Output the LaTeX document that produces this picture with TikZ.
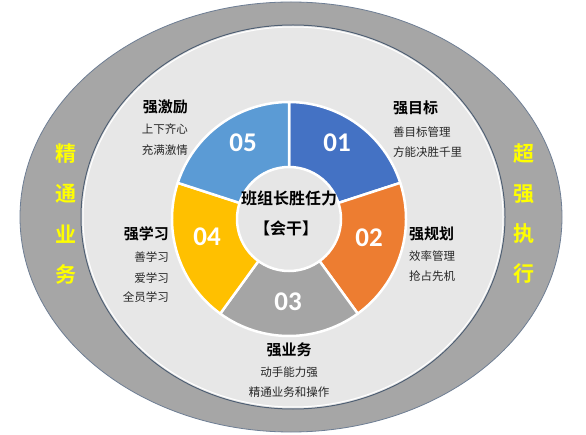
\documentclass[tikz,border=0pt]{standalone}
\usepackage{fontspec}
\setmainfont{Noto Sans CJK SC}[BoldFont={Noto Sans CJK SC Bold}]
\newfontfamily\numfont{Carlito}[BoldFont={Carlito Bold}]
\usetikzlibrary{calc}
\definecolor{ringgray}{HTML}{A6A6A6}
\definecolor{ringline}{HTML}{6E7E94}
\definecolor{innerfill}{HTML}{E7E7E7}
\definecolor{innerline}{HTML}{4F5F73}
\definecolor{cone}{HTML}{4472C4}
\definecolor{ctwo}{HTML}{ED7D31}
\definecolor{cthree}{HTML}{A5A5A5}
\definecolor{cfour}{HTML}{FFC000}
\definecolor{cfive}{HTML}{5B9BD5}
\definecolor{centerfill}{HTML}{E6E6E6}
\definecolor{ytext}{HTML}{FFFF00}
\tikzset{
  x=1pt,y=1pt,
  wedge/.style={draw=white,line width=2.5pt,line join=round},
  numtxt/.style={text=white,font=\numfont\bfseries\fontsize{27}{27}\selectfont,inner sep=0pt},
  headtxt/.style={text=black,font=\bfseries\fontsize{15}{15}\selectfont,inner sep=0pt},
  subtxt/.style={text=black!85,font=\fontsize{11.5}{11.5}\selectfont,inner sep=0pt},
  sidetxt/.style={text=ytext,font=\bfseries\fontsize{21}{21}\selectfont,inner sep=0pt},
  centertxt/.style={text=black,font=\bfseries\fontsize{16}{16}\selectfont,inner sep=0pt}
}
\begin{document}
\begin{tikzpicture}
\useasboundingbox (0,0) rectangle (586,434);
\fill[white] (0,0) rectangle (586,434);
% outer ring
\filldraw[fill=ringgray,draw=ringline,line width=0.8pt] (291,217) ellipse [x radius=271,y radius=215];
% inner ellipse
\filldraw[fill=innerfill,draw=innerline,line width=1pt] (293,217) ellipse [x radius=212,y radius=192];
\draw[white,line width=1pt] (293,217) ellipse [x radius=210,y radius=190];
% donut
\coordinate (C) at (289,215);
\filldraw[wedge,fill=cone] (C) -- ++(18:117) arc (18:90:117) -- cycle;
\filldraw[wedge,fill=ctwo] (C) -- ++(-54:117) arc (-54:18:117) -- cycle;
\filldraw[wedge,fill=cthree] (C) -- ++(-126:117) arc (-126:-54:117) -- cycle;
\filldraw[wedge,fill=cfour] (C) -- ++(162:117) arc (162:234:117) -- cycle;
\filldraw[wedge,fill=cfive] (C) -- ++(90:117) arc (90:162:117) -- cycle;
\filldraw[fill=centerfill,draw=white,line width=2.5pt] (C) circle [radius=52];
% numbers
\node[numtxt] (n1) at (337,291) {01};
\node[numtxt] (n2) at (369,196) {02};
\node[numtxt] (n3) at (288,132) {03};
\node[numtxt] (n4) at (207,197) {04};
\node[numtxt] (n5) at (243,291) {05};
% center
\node[centertxt] (c1) at (289,236) {班组长胜任力};
\node[centertxt] (c2) at (286,206) {【会干】};
% labels
\node[headtxt,anchor=east] (h5) at (188,327) {强激励};
\node[subtxt,anchor=east] (s5a) at (188,305) {上下齐心};
\node[subtxt,anchor=east] (s5b) at (188,284) {充满激情};
\node[headtxt,anchor=west] (h1) at (393,326) {强目标};
\node[subtxt,anchor=west] (s1a) at (393,302) {善目标管理};
\node[subtxt,anchor=west] (s1b) at (393,282) {方能决胜千里};
\node[headtxt,anchor=west] (h2) at (409,200) {强规划};
\node[subtxt,anchor=west] (s2a) at (409,178) {效率管理};
\node[subtxt,anchor=west] (s2b) at (409,158) {抢占先机};
\node[headtxt,anchor=east] (h4) at (169,200) {强学习};
\node[subtxt,anchor=east] (s4a) at (169,177) {善学习};
\node[subtxt,anchor=east] (s4b) at (169,156) {爱学习};
\node[subtxt,anchor=east] (s4c) at (169,137) {全员学习};
\node[headtxt] (h3) at (289,84) {强业务};
\node[subtxt] (s3a) at (289,62) {动手能力强};
\node[subtxt] (s3b) at (289,42) {精通业务和操作};
% side texts
\node[sidetxt] (l1) at (66,280) {精};
\node[sidetxt] (l2) at (66,240) {通};
\node[sidetxt] (l3) at (66,200) {业};
\node[sidetxt] (l4) at (66,160) {务};
\node[sidetxt] (r1) at (524,280) {超};
\node[sidetxt] (r2) at (524,240) {强};
\node[sidetxt] (r3) at (524,200) {执};
\node[sidetxt] (r4) at (524,160) {行};
\end{tikzpicture}
\end{document}
